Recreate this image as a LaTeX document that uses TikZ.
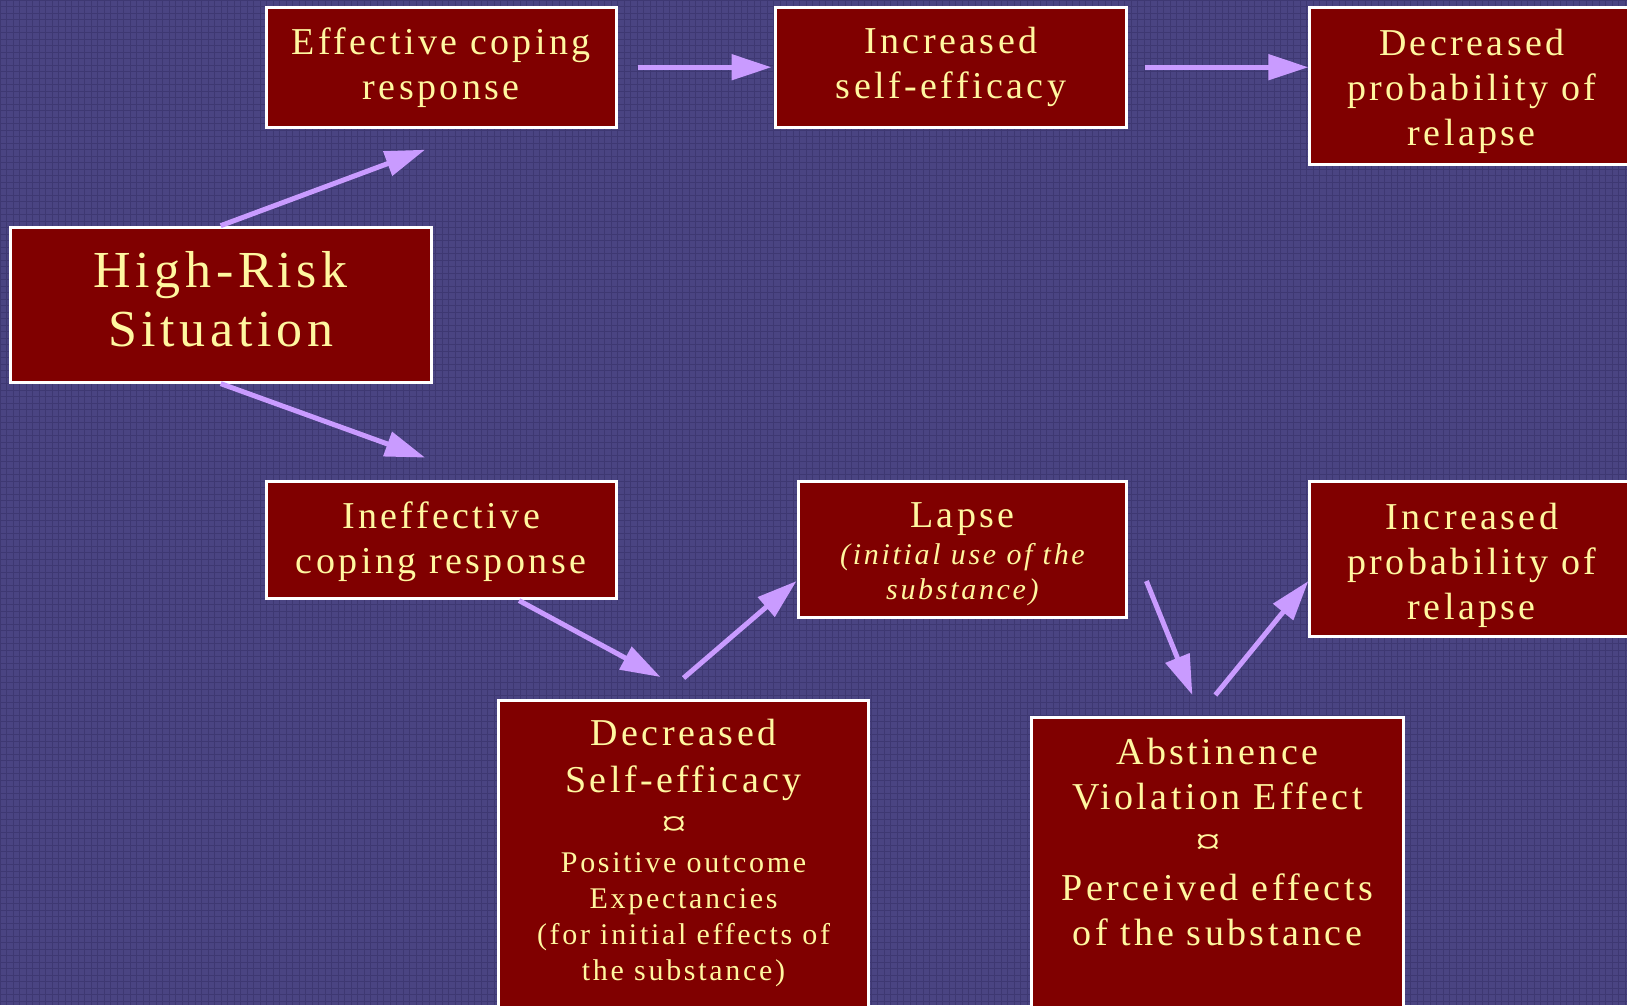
\documentclass[tikz,border=0pt]{standalone}
\usepackage{fontspec}
\usepackage{graphicx}
\setmainfont{Liberation Serif}[LetterSpace=9]
\usetikzlibrary{arrows.meta}

\definecolor{backc}{HTML}{4A4482}
\definecolor{gridc}{HTML}{3E3872}
\definecolor{boxc}{HTML}{800000}
\definecolor{textc}{HTML}{FFF7A0}
\definecolor{arrowc}{HTML}{C99BFF}

\tikzset{
  box/.style={draw=white, line width=3pt, fill=boxc, text=textc, inner sep=0pt,
    align=center, font=\fontsize{38}{45}\selectfont},
  tallbox/.style={box, anchor=north west},
  arr/.style={draw=arrowc, line width=5pt, -{Triangle[length=40pt,width=25pt]}}
}

\begin{document}
\begin{tikzpicture}[x=1pt, y=-1pt]
            % фон
            \fill [backc] ( 0, 0 ) rectangle ( 1627, 1005 );
            \draw [gridc, line width=0.5pt, step=6.5pt] ( 0, 0 ) grid ( 1627, 1005 );
            \useasboundingbox ( 0, 0 ) rectangle ( 1627, 1005 );

            % верхний ряд
            \node [box, minimum width=350pt, minimum height=120pt] (eff) at ( 441, 67 ) {Effective coping\\response};
            \node [box, minimum width=352pt, minimum height=120pt] (ise) at ( 951, 67 ) {Increased\\self-efficacy};
            \node [box] (dpr) at ( 1472, 85.5 ) {\parbox[c][157pt][t]{324pt}{\centering\vspace*{22pt}Decreased\\probability of\\relapse}};

            % ситуация
            \node [box] (hrs) at ( 220.5, 304.5 ) {\parbox[c][155pt][t]{421pt}{\centering\vspace*{24pt}\fontsize{52}{59}\selectfont High-Risk\\Situation}};

            % нижний ряд
            \node [box] (icr) at ( 441, 539.5 ) {\parbox[c][117pt][t]{350pt}{\centering\vspace*{21pt}Ineffective\\coping response}};
            \node [box] (lap) at ( 962.5, 549 ) {\parbox[c][136pt][t]{329pt}{\centering\vspace*{22pt}Lapse\par
                \vspace{2pt}{\itshape\fontsize{30}{35}\selectfont (initial use of the\\substance)\par}}};
            \node [box] (ipr) at ( 1472, 558.5 ) {\parbox[c][155pt][t]{324pt}{\centering\vspace*{22pt}Increased\\probability of\\relapse}};

            % нижние блоки
            \node [tallbox] (dse) at ( 497, 699 ) {\parbox[c][340pt][t]{370pt}{\centering\vspace*{19pt}\fontsize{38}{47}\selectfont Decreased\\Self-efficacy\par
                {\fontsize{38}{43.5}\selectfont \scalebox{1.35}[1]{¤}\hspace*{18pt}\par}
                \vspace{0.5pt}{\fontsize{30}{36}\selectfont Positive outcome\\Expectancies\\(for initial effects of\\the substance)\par}}};
            \node [tallbox] (ave) at ( 1030, 716 ) {\parbox[c][330pt][t]{372pt}{\centering\vspace*{21pt}Abstinence\\Violation Effect\par
                {\fontsize{38}{44.5}\selectfont \scalebox{1.35}[1]{¤}\hspace*{18pt}\par}
                \vspace{1.5pt}Perceived effects\\of the substance\par}};

            % стрелки
            \draw [arr] (hrs.north) -- ([xshift=-16pt, yshift=-21pt] eff.south);
            \draw [arr] (hrs.south) -- ([xshift=-16pt, yshift=22pt] icr.north);
            \draw [arr] ([xshift=20pt] eff.east) -- ([xshift=-2pt] ise.west);
            \draw [arr] ([xshift=17pt] ise.east) -- (ise.east -| dpr.west);
            \draw [arr] ([xshift=78pt, yshift=-1pt] icr.south) -- ([xshift=-23pt, yshift=22pt] dse.north);
            \draw [arr] ([xshift=0pt, yshift=21pt] dse.north) -- ([yshift=-32pt] lap.west);
            \draw [arr] ([xshift=18pt, yshift=-32pt] lap.east) -- ([xshift=-25pt, yshift=21pt] ave.north);
            \draw [arr] ([xshift=-2pt, yshift=21pt] ave.north) -- ([yshift=-22.5pt] ipr.west);
        \end{tikzpicture}
\end{document}
